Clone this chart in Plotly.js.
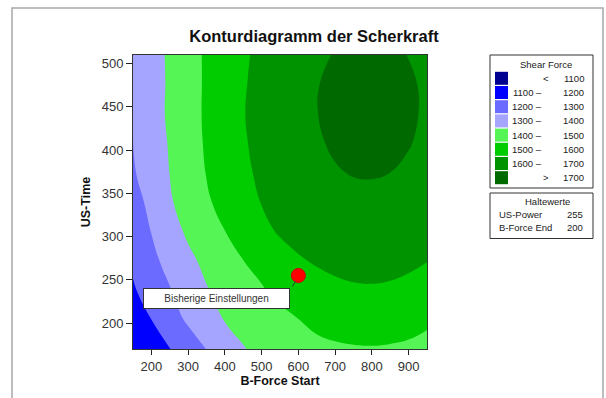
<!DOCTYPE html>
<html><head><meta charset="utf-8">
<script src="https://cdn.plot.ly/plotly-3.0.1.min.js"></script>
<style>html,body{margin:0;padding:0;background:#fff;} #chart{width:606px;height:398px;}</style>
</head><body><div id="chart"></div>
<script>
// ---- data ----
const bForceStart = [150, 200, 250, 300, 350, 400, 450, 500, 550, 600, 650, 700, 750, 800, 850, 900, 950];
const usTime = [170, 204, 238, 272, 306, 340, 374, 408, 442, 476, 510];
const row170 = [1115, 1155, 1198, 1250, 1302, 1348, 1395, 1424, 1447, 1465, 1478, 1487, 1492, 1494, 1491, 1485, 1474];
const row204 = [1141, 1200, 1259, 1314, 1361, 1404, 1428, 1448, 1474, 1499, 1522, 1537, 1546, 1548, 1543, 1532, 1514];
const row238 = [1190, 1242, 1295, 1345, 1394, 1428, 1460, 1492, 1524, 1549, 1569, 1582, 1590, 1592, 1588, 1578, 1562];
const row272 = [1215, 1278, 1328, 1379, 1422, 1460, 1499, 1528, 1563, 1592, 1608, 1620, 1627, 1629, 1625, 1616, 1602];
const row306 = [1244, 1302, 1361, 1415, 1457, 1499, 1538, 1577, 1609, 1626, 1640, 1652, 1659, 1661, 1657, 1648, 1634];
const row340 = [1262, 1326, 1390, 1440, 1488, 1529, 1568, 1603, 1628, 1648, 1665, 1677, 1684, 1686, 1682, 1673, 1658];
const row374 = [1291, 1346, 1401, 1453, 1503, 1544, 1584, 1615, 1642, 1665, 1683, 1696, 1703, 1704, 1700, 1691, 1676];
const row408 = [1299, 1353, 1407, 1460, 1510, 1552, 1593, 1620, 1644, 1673, 1694, 1707, 1714, 1716, 1712, 1703, 1688];
const row442 = [1307, 1359, 1415, 1467, 1512, 1555, 1597, 1624, 1651, 1681, 1699, 1712, 1720, 1722, 1718, 1708, 1693];
const row476 = [1303, 1359, 1413, 1464, 1512, 1553, 1594, 1622, 1650, 1679, 1698, 1711, 1718, 1720, 1716, 1707, 1692];
const row510 = [1306, 1361, 1415, 1465, 1512, 1551, 1590, 1617, 1643, 1670, 1689, 1703, 1710, 1712, 1708, 1699, 1684];
const levels = [1100, 1200, 1300, 1400, 1500, 1600, 1700];
const bandColors = ['#000090', '#0000ff', '#6b6bff', '#a5a5ff', '#55f555', '#00cc00', '#009300', '#006a00'];
const currentX = [600];
const currentY = [255];
const currentLabel = 'Bisherige Einstellungen';
const holdNames = ['US-Power', 'B-Force End'];
const holdValues = [255, 200];

const shearForce = [row170, row204, row238, row272, row306, row340, row374, row408, row442, row476, row510];

// ---- layout helpers (pixel -> paper) ----
const L = 133, R = 427, T = 55, B = 349;
const px = p => (p - L) / (R - L);
const py = q => (B - q) / (B - T);
const FONT = '"Liberation Sans", Arial, sans-serif';

const colorscale = bandColors.map((c, i) => [i / (bandColors.length - 1), c]);

const traces = [
  {
    type: 'contour', x: bForceStart, y: usTime, z: shearForce,
    autocontour: false,
    contours: {start: levels[0], end: levels[levels.length - 1], size: levels[1] - levels[0], coloring: 'fill', showlines: false},
    line: {width: 0, smoothing: 1.3},
    colorscale: colorscale, showscale: false, hoverinfo: 'skip'
  },
  {
    type: 'scatter', mode: 'markers', x: currentX, y: currentY,
    marker: {color: '#ff0000', size: 14, line: {color: '#d00000', width: 1}},
    hoverinfo: 'skip', showlegend: false
  }
];

const shapes = [
  {type: 'rect', xref: 'paper', yref: 'paper', x0: px(12), x1: px(603), y0: py(420), y1: py(8),
   line: {color: '#a8a8a8', width: 1.5}, layer: 'below'},
  {type: 'rect', xref: 'paper', yref: 'paper', x0: px(490), x1: px(593), y0: py(188), y1: py(55),
   line: {color: '#333', width: 1}, fillcolor: '#fff'},
  {type: 'rect', xref: 'paper', yref: 'paper', x0: px(490), x1: px(593), y0: py(238.5), y1: py(193),
   line: {color: '#333', width: 1}, fillcolor: '#fff'}
];

const lgFont = {family: FONT, size: 9.5, color: '#222'};
const annotations = [
  {xref: 'paper', yref: 'paper', x: px(546), y: py(64), text: 'Shear Force', showarrow: false, font: lgFont, xanchor: 'center', yanchor: 'middle'},
  {xref: 'paper', yref: 'paper', x: px(547), y: py(201.5), text: 'Haltewerte', showarrow: false, font: lgFont, xanchor: 'center', yanchor: 'middle'}
];

bandColors.forEach((c, i) => {
  const yc = 78.3 + i * 14.2;
  shapes.push({type: 'rect', xref: 'paper', yref: 'paper', x0: px(495), x1: px(508), y0: py(yc + 6.5), y1: py(yc - 6.5),
    fillcolor: c, line: {width: 0}});
  let left, right;
  if (i === 0) { left = '<'; right = levels[0]; }
  else if (i === bandColors.length - 1) { left = '>'; right = levels[levels.length - 1]; }
  else { left = levels[i - 1] + ' \u2013'; right = levels[i]; }
  annotations.push({xref: 'paper', yref: 'paper', x: px(i === 0 || i === bandColors.length - 1 ? 551 : 544), y: py(yc),
    text: String(left), showarrow: false, font: lgFont, xanchor: 'right', yanchor: 'middle'});
  annotations.push({xref: 'paper', yref: 'paper', x: px(586), y: py(yc),
    text: String(right), showarrow: false, font: lgFont, xanchor: 'right', yanchor: 'middle'});
});

holdNames.forEach((n, i) => {
  const yc = 215 + i * 12.7;
  annotations.push({xref: 'paper', yref: 'paper', x: px(497), y: py(yc), text: n, showarrow: false, font: lgFont, xanchor: 'left', yanchor: 'middle'});
  annotations.push({xref: 'paper', yref: 'paper', x: px(585), y: py(yc), text: String(holdValues[i]), showarrow: false, font: lgFont, xanchor: 'right', yanchor: 'middle'});
});

// label box and connector for the current setting
annotations.push({xref: 'paper', yref: 'paper', x: px(216.5), y: py(298), text: currentLabel, showarrow: false,
  font: {family: FONT, size: 10, color: '#333'}, bgcolor: '#fff', bordercolor: '#333', borderwidth: 1, borderpad: 4,
  width: 137, height: 11, align: 'center', xanchor: 'center', yanchor: 'middle'});
annotations.push({x: currentX[0], y: currentY[0], xref: 'x', yref: 'y', text: ' ', showarrow: true, arrowhead: 0,
  arrowwidth: 1, arrowcolor: '#2d4d2d', ax: -7, ay: 13, standoff: 6, font: {size: 1}});

const layout = {
  width: 606, height: 398,
  margin: {l: L, r: 606 - R, t: T, b: 398 - B, pad: 0},
  paper_bgcolor: '#fff', plot_bgcolor: '#fff',
  showlegend: false,
  title: {text: '<b>Konturdiagramm der Scherkraft</b>', font: {family: FONT, size: 16.5, color: '#111'},
          xref: 'paper', x: px(314), xanchor: 'center', yref: 'container', y: 1 - 36 / 398, yanchor: 'middle'},
  xaxis: {range: [150, 950], tick0: 200, dtick: 100, ticks: 'outside', ticklen: 5, tickcolor: '#222',
          showline: true, mirror: true, linecolor: '#333', linewidth: 1, showgrid: false, zeroline: false,
          tickfont: {family: FONT, size: 13, color: '#333'},
          title: {text: '<b>B-Force Start</b>', font: {family: FONT, size: 12.5, color: '#111'}, standoff: 2}},
  yaxis: {range: [170, 510], tick0: 200, dtick: 50, ticks: 'outside', ticklen: 6, tickcolor: '#222',
          showline: true, mirror: true, linecolor: '#333', linewidth: 1, showgrid: false, zeroline: false,
          tickfont: {family: FONT, size: 13, color: '#333'},
          title: {text: '<b>US-Time</b>', font: {family: FONT, size: 12.5, color: '#111'}, standoff: 8}},
  shapes: shapes,
  annotations: annotations
};

Plotly.newPlot('chart', traces, layout, {displayModeBar: false, staticPlot: true});
</script>
</body></html>
